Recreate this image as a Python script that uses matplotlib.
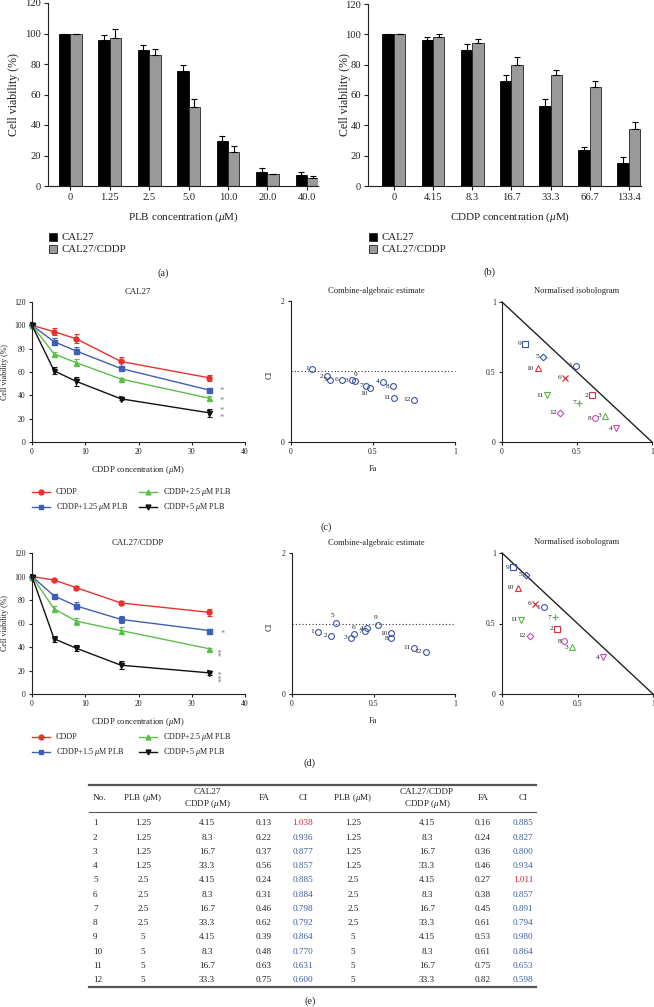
import matplotlib
matplotlib.use('Agg')
import matplotlib.pyplot as plt
from matplotlib.lines import Line2D
from matplotlib.patches import Rectangle
import numpy as np

plt.rcParams['font.family'] = ['Liberation Serif', 'DejaVu Serif']
plt.rcParams['mathtext.fontset'] = 'custom'
plt.rcParams['mathtext.rm'] = 'Liberation Serif'
plt.rcParams['mathtext.it'] = 'Liberation Serif:italic'

# ---------------- data ----------------
plb_labels = ['0', '1.25', '2.5', '5.0', '10.0', '20.0', '40.0']
plb_cal27 = [100, 96, 89.5, 75.5, 29.5, 9.5, 7.5]
plb_cal27_err = [0, 3.3, 3.2, 4, 3, 2, 1.8]
plb_res = [100, 97, 86, 52, 22.5, 8, 5]
plb_res_err = [0, 6, 3.8, 4.8, 3.7, 0, 1.3]

cddp_labels = ['0', '4.15', '8.3', '16.7', '33.3', '66.7', '133.4']
cddp_cal27 = [100, 96, 89.5, 69, 52.5, 23.5, 15]
cddp_cal27_err = [0, 2, 4, 4, 4.8, 2.5, 3.8]
cddp_res = [100, 98, 94, 80, 73, 65.5, 37.5]
cddp_res_err = [0, 2, 3, 4.8, 3.3, 3.9, 4.8]

conc = [0, 4.15, 8.3, 16.7, 33.3]
c_cddp = [100, 94.5, 88.5, 69, 55]
c_cddp_err = [0, 3, 4, 4, 2.5]
c_plb125 = [100, 86, 78, 63, 44.5]
c_plb125_err = [0, 3, 3, 1.5, 2]
c_plb25 = [100, 75.5, 68, 54, 37.5]
c_plb25_err = [0, 2, 3, 1, 1.5]
c_plb5 = [100, 61, 52, 37, 25]
c_plb5_err = [0, 3, 4, 1, 3.5]

r_cddp = [100, 97, 90.5, 77.5, 69.5]
r_cddp_err = [0, 1, 1, 2, 3]
r_plb15 = [100, 83.5, 75, 63.5, 54]
r_plb15_err = [0, 1.5, 3, 3, 1]
r_plb25 = [100, 72.5, 62, 54, 38.5]
r_plb25_err = [0, 2, 3, 3, 1]
r_plb5 = [100, 47, 39, 24.5, 18]
r_plb5_err = [0, 2.5, 2.5, 3.5, 2]

combo_no = list(range(1, 13))
combo_plb = [1.25, 1.25, 1.25, 1.25, 2.5, 2.5, 2.5, 2.5, 5, 5, 5, 5]
combo_cddp = [4.15, 8.3, 16.7, 33.3] * 3
fa_cal27 = [0.13, 0.22, 0.37, 0.56, 0.24, 0.31, 0.46, 0.62, 0.39, 0.48, 0.63, 0.75]
ci_cal27 = [1.038, 0.936, 0.877, 0.857, 0.885, 0.884, 0.798, 0.792, 0.864, 0.770, 0.631, 0.600]
fa_res = [0.16, 0.24, 0.36, 0.46, 0.27, 0.38, 0.45, 0.61, 0.53, 0.61, 0.75, 0.82]
ci_res = [0.885, 0.827, 0.800, 0.934, 1.011, 0.857, 0.891, 0.794, 0.980, 0.864, 0.653, 0.598]

iso_c_x = [0.49, 0.60, 0.686, 0.757, 0.27, 0.42, 0.515, 0.62, 0.155, 0.237, 0.30, 0.387]
iso_c_y = [0.545, 0.334, 0.187, 0.10, 0.61, 0.46, 0.282, 0.168, 0.70, 0.526, 0.334, 0.209]
iso_d_x = [0.276, 0.364, 0.464, 0.667, 0.159, 0.216, 0.349, 0.413, 0.073, 0.104, 0.126, 0.183]
iso_d_y = [0.617, 0.461, 0.331, 0.262, 0.846, 0.641, 0.546, 0.374, 0.898, 0.752, 0.527, 0.414]

# ---------------- helpers ----------------
W, H = 654, 1007
fig = plt.figure(figsize=(W / 100, H / 100), dpi=100)


def box(l, t, r, b):
    return fig.add_axes([l / W, 1 - b / H, (r - l) / W, (b - t) / H])


def ftext(x, y, s, **kw):
    kw.setdefault('ha', 'center')
    kw.setdefault('va', 'center')
    fig.text(x / W, 1 - y / H, s, **kw)


def fline(x0, x1, y, **kw):
    fig.add_artist(Line2D([x0 / W, x1 / W], [1 - y / H, 1 - y / H], **kw))


def style_ax(ax, fs):
    for s in ['top', 'right']:
        ax.spines[s].set_visible(False)
    for s in ['left', 'bottom']:
        ax.spines[s].set_linewidth(0.8)
        ax.spines[s].set_color('#222222')
    ax.tick_params(direction='out', length=3, width=0.8, labelsize=fs,
                   colors='#222222', pad=2)


TXT = '#222222'

# ---------------- (a) and (b) bar charts ----------------
def bar_panel(l, t, r, b, labels, v1, e1, v2, e2, xlim, xlabel, xl_x, yl_x):
    ax = box(l, t, r, b)
    x = np.arange(len(labels))
    w = 0.29
    ax.bar(x - w / 2, v1, w, color='#000000', edgecolor='#000000', lw=0.6)
    ax.bar(x + w / 2, v2, w, color='#9a9a9a', edgecolor='#222222', lw=0.6)
    ax.errorbar(x - w / 2, v1, yerr=[np.zeros(len(v1)), e1], fmt='none',
                ecolor='#000000', elinewidth=0.8, capsize=2.2, capthick=0.8)
    ax.errorbar(x + w / 2, v2, yerr=[np.zeros(len(v2)), e2], fmt='none',
                ecolor='#000000', elinewidth=0.8, capsize=2.2, capthick=0.8)
    ax.set_xlim(*xlim)
    ax.set_ylim(0, 120)
    ax.set_yticks(range(0, 121, 20))
    ax.set_xticks(x)
    ax.set_xticklabels(labels)
    style_ax(ax, 7.6)
    ftext(xl_x, 217, xlabel, fontsize=8, color=TXT)
    ftext(yl_x, 95, 'Cell viability (%)', fontsize=8.6, color=TXT, rotation=90)
    # legend
    lx = l + 1
    for yy, fc, lab in [(237, '#000000', 'CAL27'), (249, '#9a9a9a', 'CAL27/CDDP')]:
        fig.add_artist(Rectangle(((lx) / W, 1 - (yy + 4) / H), 8 / W, 8 / H,
                                 facecolor=fc, edgecolor='#222222', lw=0.6))
        ftext(lx + 13, yy, lab, fontsize=7.8, ha='left', color=TXT)
    return ax


bar_panel(48, 3, 318, 186, plb_labels, plb_cal27, plb_cal27_err, plb_res, plb_res_err,
          (-0.56, 6.28), r'PLB concentration ($\mu$M)', 183, 14)
bar_panel(368, 4, 641, 186, cddp_labels, cddp_cal27, cddp_cal27_err, cddp_res, cddp_res_err,
          (-0.66, 6.31), r'CDDP concentration ($\mu$M)', 510, 345)
ftext(163, 273, '(a)', fontsize=7.5, color=TXT)
ftext(490, 272, '(b)', fontsize=7.5, color=TXT)

# ---------------- line charts ----------------
RED, BLUE, GREEN, BLACK = '#e8322d', '#3f5fb5', '#5cbf4a', '#111111'
STAR = '#777777'


def line_panel(t, b, title, series, stars, legend_labels, leg_y):
    ax = box(32, t, 245, b)
    for (vals, err, col, mk) in series:
        ax.errorbar(conc, vals, yerr=err, color=col, marker=mk, markersize=3.6,
                    lw=1.0, elinewidth=0.8, capsize=1.8, capthick=0.8, clip_on=False)
    ax.set_xlim(0, 40)
    ax.set_ylim(0, 120)
    ax.set_yticks(range(0, 121, 20))
    ax.set_xticks(range(0, 41, 10))
    style_ax(ax, 5.6)
    ax.tick_params(length=2.5)
    for (sx, sy, s, rot) in stars:
        ax.text(sx, sy, s, color=STAR, fontsize=6, ha='center', va='center',
                rotation=rot, clip_on=False)
    ftext(138, t - 10, title, fontsize=6.3, color=TXT)
    ftext(5, (t + b) / 2, 'Cell viability (%)', fontsize=5.8, color=TXT, rotation=90)
    ftext(138, b + 28, r'CDDP concentration ($\mu$M)', fontsize=6.2, color=TXT)
    # legend
    items = [(32, leg_y, RED, 'o', legend_labels[0]),
             (32, leg_y + 15, BLUE, 's', legend_labels[1]),
             (139, leg_y, GREEN, '^', legend_labels[2]),
             (139, leg_y + 15, BLACK, 'v', legend_labels[3])]
    for x0, yy, col, mk, lab in items:
        fline(x0, x0 + 18, yy, color=col, lw=1)
        fig.add_artist(Line2D([(x0 + 9) / W], [1 - yy / H], color=col, marker=mk,
                              markersize=3.5, ls='none'))
        ftext(x0 + 24, yy, lab, fontsize=5.9, ha='left', color=TXT)
    return ax


line_panel(302, 442, 'CAL27',
           [(c_cddp, c_cddp_err, RED, 'o'), (c_plb125, c_plb125_err, BLUE, 's'),
            (c_plb25, c_plb25_err, GREEN, '^'), (c_plb5, c_plb5_err, BLACK, 'v')],
           [(35.6, 43.5, '*', 0), (35.6, 35.5, '*', 0), (35.6, 26.5, '*', 0), (35.6, 20.5, '*', 0)],
           ['CDDP', r'CDDP+1.25 $\mu$M PLB', r'CDDP+2.5 $\mu$M PLB', r'CDDP+5 $\mu$M PLB'], 492)

line_panel(553, 694, 'CAL27/CDDP',
           [(r_cddp, r_cddp_err, RED, 'o'), (r_plb15, r_plb15_err, BLUE, 's'),
            (r_plb25, r_plb25_err, GREEN, '^'), (r_plb5, r_plb5_err, BLACK, 'v')],
           [(35.8, 51.5, '*', 0), (35.8, 36, '**', 90), (35.8, 15.5, '***', 90)],
           ['CDDP', r'CDDP+1.5 $\mu$M PLB', r'CDDP+2.5 $\mu$M PLB', r'CDDP+5 $\mu$M PLB'], 737)

# ---------------- CI plots ----------------
CIBLUE = '#3a55a8'


def ci_panel(l, t, b, fa, ci, offsets):
    ax = box(l, t, 455, b)
    ax.plot([0, 1], [1, 1], ls=(0, (1, 2)), color='#333333', lw=0.8, clip_on=False)
    ax.plot(fa, ci, 'o', mfc='none', mec=CIBLUE, ms=4.2, mew=0.8, clip_on=False)
    for i, (x, y) in enumerate(zip(fa, ci)):
        dx, dy = offsets.get(i + 1, (-2.5, 0))
        ax.annotate(str(i + 1), (x, y), xytext=(dx, dy), textcoords='offset points',
                    ha='right' if dx < 0 else 'center', va='center', fontsize=5.3,
                    color=TXT)
    ax.set_xlim(0, 1)
    ax.set_ylim(0, 2)
    ax.set_xticks([0, 0.5, 1])
    ax.set_xticklabels(['0', '0.5', '1'])
    ax.set_yticks([0, 2])
    style_ax(ax, 5.6)
    ax.tick_params(length=2.5)
    ftext((l + 455) / 2 + 3, t - 10, 'Combine-algebraic estimate', fontsize=6.1, color=TXT)
    ftext(270, (t + b) / 2 + 3, 'CI', fontsize=6, color=TXT, rotation=90)
    ftext(373, b + 27, 'Fa', fontsize=6, color=TXT)


ci_panel(291, 301, 442, fa_cal27, ci_cal27, {9: (0.5, 4.6), 10: (-1.5, -4.2)})
ci_panel(292, 553, 694, fa_res, ci_res, {5: (-1.5, 5), 9: (-1, 5), 6: (0, 4.5)})

# ---------------- isobolograms ----------------
ISO_COLORS = ['#3a55a8', '#d9333f', '#5db548', '#c44ac4']
ISO_MARKERS = ['o', 's', '^', 'v', 'D', 'x', '+', 'o', 's', '^', 'v', 'D']


def iso_panel(t, b, r, xs, ys):
    ax = box(502, t, r, b)
    ax.plot([0, 1], [1, 0], color='#222222', lw=1.0, clip_on=False)
    for i, (x, y) in enumerate(zip(xs, ys)):
        col = ISO_COLORS[i % 4]
        mk = ISO_MARKERS[i]
        if mk in ['x', '+']:
            ax.plot(x, y, mk, color=col, ms=4.5, mew=0.9, clip_on=False)
        else:
            ms = 3.4 if mk == 'D' else 4.2
            ax.plot(x, y, mk, mfc='none', mec=col, ms=ms, mew=0.8, clip_on=False)
        ax.annotate(str(i + 1), (x, y), xytext=(-2.5, 0), textcoords='offset points',
                    ha='right', va='center', fontsize=5.3, color=TXT)
    ax.set_xlim(0, 1)
    ax.set_ylim(0, 1)
    ax.set_xticks([0, 0.5, 1])
    ax.set_xticklabels(['0', '0.5', '1'])
    ax.set_yticks([0, 0.5, 1])
    ax.set_yticklabels(['0', '0.5', '1'])
    style_ax(ax, 5.6)
    ax.tick_params(length=2.5)
    ftext(577, t - 11, 'Normalised isobologram', fontsize=6.1, color=TXT)


iso_panel(302, 442, 652, iso_c_x, iso_c_y)
iso_panel(553, 694, 653, iso_d_x, iso_d_y)

ftext(326, 527, '(c)', fontsize=7.5, color=TXT)
ftext(310, 763, '(d)', fontsize=7.5, color=TXT)

# ---------------- table (e) ----------------
FS = 6.6
CI_BLUE_T = '#3b5b9e'
CI_RED_T = '#c8283a'
fline(89, 536, 785, color='#555555', lw=1.6)
fline(89, 536, 812, color='#555555', lw=0.8)
fline(89, 536, 987, color='#555555', lw=1.6)

col_x = [93, 143, 207, 264, 303, 353, 427, 483, 523]
ftext(col_x[0], 798, 'No.', fontsize=FS, ha='left', color=TXT)
ftext(col_x[1], 798, r'PLB ($\mu$M)', fontsize=FS, color=TXT)
ftext(col_x[2], 792, 'CAL27', fontsize=FS, color=TXT)
ftext(col_x[2], 804, r'CDDP ($\mu$M)', fontsize=FS, color=TXT)
ftext(col_x[3], 798, 'FA', fontsize=FS, color=TXT)
ftext(col_x[4], 798, 'CI', fontsize=FS, color=TXT)
ftext(col_x[5], 798, r'PLB ($\mu$M)', fontsize=FS, color=TXT)
ftext(col_x[6], 792, 'CAL27/CDDP', fontsize=FS, color=TXT)
ftext(col_x[6], 804, r'CDDP ($\mu$M)', fontsize=FS, color=TXT)
ftext(col_x[7], 798, 'FA', fontsize=FS, color=TXT)
ftext(col_x[8], 798, 'CI', fontsize=FS, color=TXT)

for i in range(12):
    y = 823.3 + i * 14.25
    ftext(col_x[0], y, str(combo_no[i]), fontsize=FS, ha='left', color=TXT)
    ftext(col_x[1], y, f'{combo_plb[i]:g}', fontsize=FS, color=TXT)
    ftext(col_x[2], y, f'{combo_cddp[i]:g}', fontsize=FS, color=TXT)
    ftext(col_x[3], y, f'{fa_cal27[i]:.2f}', fontsize=FS, color=TXT)
    ftext(col_x[4], y, f'{ci_cal27[i]:.3f}', fontsize=FS,
          color=CI_RED_T if ci_cal27[i] > 1 else CI_BLUE_T)
    ftext(col_x[5], y, f'{combo_plb[i]:g}', fontsize=FS, color=TXT)
    ftext(col_x[6], y, f'{combo_cddp[i]:g}', fontsize=FS, color=TXT)
    ftext(col_x[7], y, f'{fa_res[i]:.2f}', fontsize=FS, color=TXT)
    ftext(col_x[8], y, f'{ci_res[i]:.3f}', fontsize=FS,
          color=CI_RED_T if ci_res[i] > 1 else CI_BLUE_T)

ftext(310, 1001, '(e)', fontsize=7.5, color=TXT)

fig.savefig('out.png', dpi=100)
